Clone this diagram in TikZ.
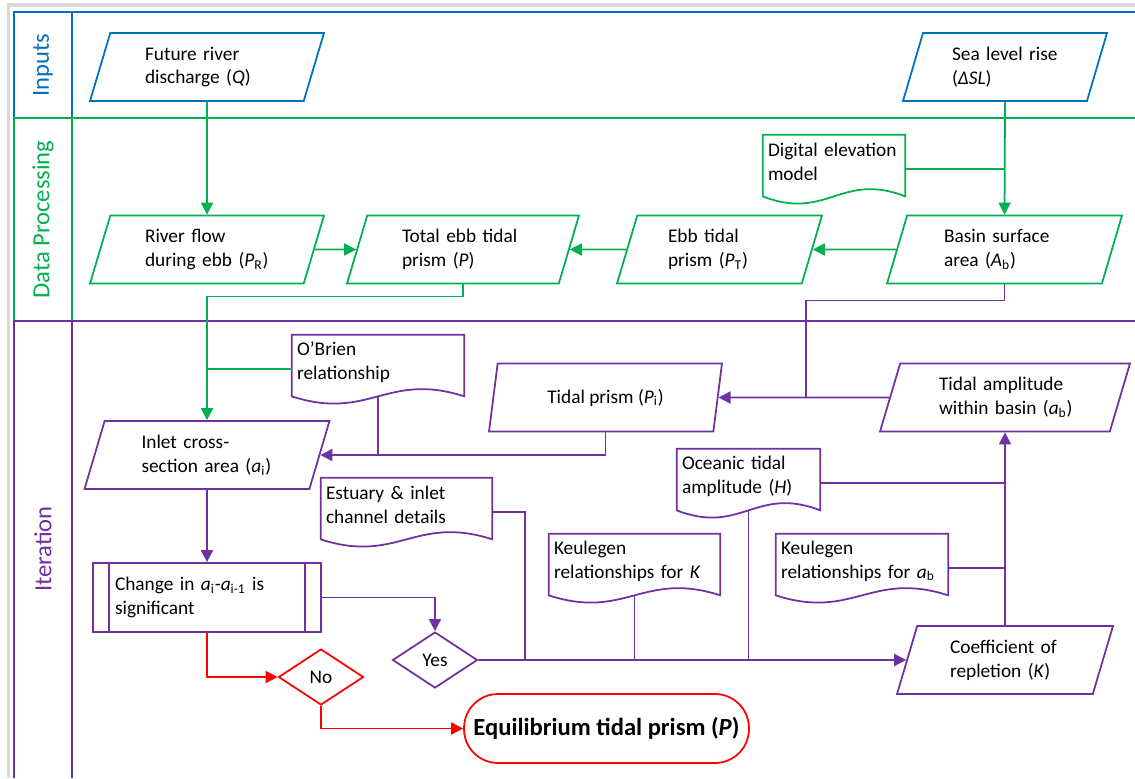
\documentclass[tikz,border=0pt]{standalone}
\usepackage{fontspec}
\setmainfont{Carlito}
\usetikzlibrary{shapes.geometric,arrows.meta,calc}

\definecolor{inblue}{HTML}{0070C0}
\definecolor{dpgreen}{HTML}{00B050}
\definecolor{itpurple}{HTML}{7030A0}
\definecolor{stopred}{HTML}{FF0000}
\definecolor{shotgray}{HTML}{D9D9D9}

\tikzset{every node/.style={font=\fontsize{11}{13.6}\selectfont, text=black}}
\tikzset{para/.style={trapezium, trapezium left angle=63.43, trapezium right angle=116.57,
    trapezium stretches body, line width=1pt, minimum height=1.36cm, inner sep=0pt, align=left}}
\tikzset{docbox/.style={rectangle, minimum height=1.08cm, inner sep=0pt, align=left}}
\tikzset{lane/.style={rotate=90, font=\fontsize{14}{17}\selectfont}}
\tikzset{diam/.style={diamond, line width=1pt, minimum width=1.7cm, minimum height=1.12cm, inner sep=0pt}}
\tikzset{term/.style={rectangle, draw=stopred, line width=1pt, rounded corners=0.68cm,
    minimum width=5.7cm, minimum height=1.38cm, font=\fontsize{14}{17}\selectfont\bfseries}}
\tikzset{gline/.style={dpgreen, line width=1pt}}
\tikzset{pline/.style={itpurple, line width=1pt}}
\tikzset{garrow/.style={gline, -{Triangle[length=0.24cm,width=0.24cm]}}}
\tikzset{parrow/.style={pline, -{Triangle[length=0.24cm,width=0.24cm]}}}
\tikzset{rarrow/.style={stopred, line width=1pt, -{Triangle[length=0.24cm,width=0.24cm]}}}

\newcommand{\docframe}[2]{%
  \draw[#2] (#1.north west) -- (#1.north east) -- ($(#1.south east)+(0,7)$)
    .. controls ($(#1.south east)!0.45!(#1.south west)+(0,-18)$)
    and ($(#1.south east)!0.55!(#1.south west)+(0,32)$) .. ($(#1.south west)+(0,7)$) -- cycle;}

\begin{document}
\begin{tikzpicture}[x=0.02cm, y=-0.02cm]
\useasboundingbox (0,0) rectangle (1135,778);

\draw[shotgray, line width=2pt] (8.5,778) -- (8.5,5) -- (1135,5);
\draw[inblue, line width=1pt] (1135,12) -- (14,12) -- (14,118) (72,12) -- (72,118);
\draw[dpgreen, line width=1pt] (1135,118) -- (14,118) -- (14,321) (72,118) -- (72,321);
\draw[itpurple, line width=1pt] (1135,321) -- (14,321) -- (14,778) (72,321) -- (72,778);

\node[lane, text=inblue] (linp) at (43,65) {Inputs};
\node[lane, text=dpgreen] (ldata) at (43,219.5) {Data Processing};
\node[lane, text=itpurple] (liter) at (43,549) {Iteration};

\node[para, draw=inblue, minimum width=4.68cm, text width=2.48cm] (fut) at (207,67) {Future~river\\discharge~(\textit{Q})};
\node[para, draw=inblue, minimum width=4.08cm, text width=2.12cm] (sea) at (1005,67) {Sea~level~rise\\(\textit{ΔSL})};

\node[docbox, minimum width=2.84cm, text width=2.64cm] (dem) at (834,162) {Digital~elevation\\model};
\docframe{dem}{gline}
\node[para, draw=dpgreen, minimum width=4.68cm, text width=2.48cm] (riv) at (207,249.5) {River~flow\\during~ebb~(\textit{P}\textsubscript{R})};
\node[para, draw=dpgreen, minimum width=4.64cm, text width=2.44cm] (tot) at (463,249.5) {Total~ebb~tidal\\prism~(\textit{P})};
\node[para, draw=dpgreen, minimum width=4.10cm, text width=2.06cm] (ebb) at (719.5,249.5) {Ebb~tidal\\prism~(\textit{P}\textsubscript{T})};
\node[para, draw=dpgreen, minimum width=4.70cm, text width=2.42cm] (bas) at (1004.5,249.5) {Basin~surface\\area~(\textit{A}\textsubscript{b})};

\node[docbox, minimum width=3.44cm, text width=3.24cm] (obr) at (378,362) {O’Brien\\relationship};
\docframe{obr}{pline}
\node[para, draw=itpurple, minimum width=4.66cm] (tpr) at (605.5,397.5) {Tidal~prism~(\textit{P}\textsubscript{i})};
\node[para, draw=itpurple, minimum width=5.00cm, text width=2.64cm] (tam) at (1005,397.5) {Tidal~amplitude\\within~basin~(\textit{a}\textsubscript{b})};
\node[para, draw=itpurple, minimum width=4.90cm, text width=2.62cm] (inl) at (207,455) {Inlet~cross-\\section~area~(\textit{a}\textsubscript{i})};
\node[docbox, minimum width=3.42cm, text width=3.22cm] (est) at (406.5,505) {Estuary~\&~inlet\\channel~details};
\docframe{est}{pline}
\node[docbox, minimum width=2.86cm, text width=2.66cm] (oce) at (748.5,476) {Oceanic~tidal\\amplitude~(\textit{H})};
\docframe{oce}{pline}
\node[docbox, minimum width=3.42cm, text width=3.22cm] (kek) at (634.5,561) {Keulegen\\relationships~for~\textit{K}};
\docframe{kek}{pline}
\node[docbox, minimum width=3.44cm, text width=3.24cm] (kea) at (862,561) {Keulegen\\relationships~for~\textit{a}\textsubscript{b}};
\docframe{kea}{pline}
\node[rectangle, draw=itpurple, line width=1pt, minimum width=4.56cm, minimum height=1.38cm,
    text width=3.68cm, align=left, inner sep=0pt] (chg) at (207,597.5)
    {Change~in~\textit{a}\textsubscript{i}-\textit{a}\textsubscript{i-1}~is\\significant};
\draw[pline] ($(chg.north west)+(17,0)$) -- ($(chg.south west)+(17,0)$);
\draw[pline] ($(chg.north east)+(-17,0)$) -- ($(chg.south east)+(-17,0)$);
\node[diam, draw=itpurple] (yes) at (435,660) {Yes};
\node[diam, draw=stopred] (no) at (321,677) {No};
\node[para, draw=itpurple, minimum width=4.32cm, text width=2.20cm] (coe) at (1005,660) {Coefficient~of\\repletion~(\textit{K})};
\node[term] (eq) at (606.5,728.5) {Equilibrium tidal prism (\textit{P})};

\coordinate (dm) at ($(dem.east)+(0,7)$);
\coordinate (ow) at ($(obr.west)+(0,7)$);
\coordinate (os) at ($(obr.south)+(0,7)$);
\coordinate (jb) at (806,397.5);
\coordinate (ee) at ($(est.east)+(0,7)$);
\coordinate (jy) at (525,660);
\coordinate (ks) at ($(kek.south)+(0,7)$);
\coordinate (osc) at ($(oce.south)+(0,7)$);
\coordinate (oe) at ($(oce.east)+(0,7)$);
\coordinate (ke) at ($(kea.east)+(0,7)$);

\draw[garrow] (fut.south) -- (riv.north);
\draw[garrow] (sea.south) -- (bas.north);
\draw[gline] (dm) -- (dm -| sea.south);
\draw[garrow] (riv) -- (tot);
\draw[garrow] (bas) -- (ebb);
\draw[garrow] (ebb) -- (tot);
\draw[garrow] (tot.south) -- ++(0,12) -| (inl.north);
\draw[gline] (ow) -- (ow -| inl.north);
\draw[pline] (bas.south) -- ++(0,16) -| (jb);
\draw[parrow] (tam) -- (tpr);
\draw[parrow] (tpr.south) |- (inl.east);
\draw[pline] (os) -- (os |- inl.east);
\draw[parrow] (inl.south) -- (chg.north);
\draw[parrow] (chg.east) -| (yes.north);
\draw[rarrow] (chg.south) |- (no.west);
\draw[rarrow] (no.south) |- (eq.west);
\draw[parrow] (yes) -- (coe);
\draw[pline] (ee) -| (jy);
\draw[pline] (ks) -- (ks |- yes.east);
\draw[pline] (osc) -- (osc |- yes.east);
\draw[pline] (oe) -- (oe -| coe.north);
\draw[pline] (ke) -- (ke -| coe.north);
\draw[parrow] (coe.north) -- (tam.south);
\end{tikzpicture}
\end{document}
